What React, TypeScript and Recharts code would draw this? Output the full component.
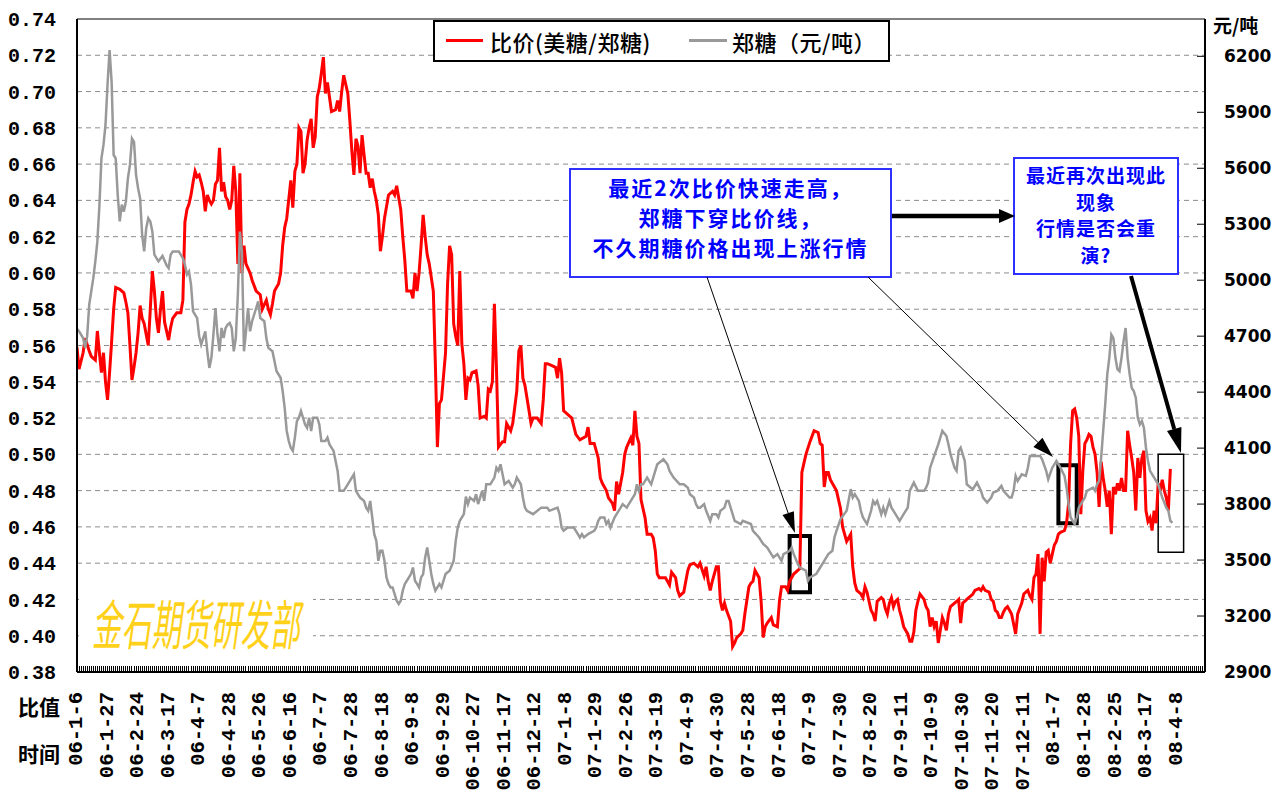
import React from "react";
import {
  CartesianGrid,
  Line,
  LineChart,
  ReferenceArea,
  ReferenceLine,
  XAxis,
  YAxis,
} from "recharts";

// x labels, one every 15 trading days (day index = 15 * position)
const dateLabels = [
  "06-1-6", "06-1-27", "06-2-24", "06-3-17", "06-4-7", "06-4-28", "06-5-26",
  "06-6-16", "06-7-7", "06-7-28", "06-8-18", "06-9-8", "06-9-29", "06-10-27",
  "06-11-17", "06-12-12", "07-1-8", "07-1-29", "07-2-26", "07-3-19", "07-4-9",
  "07-4-30", "07-5-28", "07-6-18", "07-7-9", "07-7-30", "07-8-20", "07-9-11",
  "07-10-9", "07-10-30", "07-11-20", "07-12-11", "08-1-7", "08-1-28", "08-2-25",
  "08-3-17", "08-4-8",
];

const ratioTicks = [
  0.38, 0.4, 0.42, 0.44, 0.46, 0.48, 0.5, 0.52, 0.54, 0.56, 0.58, 0.6, 0.62,
  0.64, 0.66, 0.68, 0.7, 0.72, 0.74,
];
const priceTicks = [
  2900, 3200, 3500, 3800, 4100, 4400, 4700, 5000, 5300, 5600, 5900, 6200,
];

// [trading day, 比价(美糖/郑糖)]
const ratioPoints: [number, number][] = [
  [0,0.559],[1,0.547],[3,0.556],[4,0.564],[6,0.557],[7,0.554],[9,0.552],[10,0.568],[11,0.556],[12,0.545],
  [13,0.556],[14,0.54],[15,0.53],[16,0.545],[17,0.562],[18,0.58],[19,0.592],[21,0.591],[23,0.589],[24,0.584],
  [25,0.578],[26,0.56],[27,0.541],[28,0.548],[29,0.556],[30,0.567],[31,0.582],[32,0.575],[33,0.572],[34,0.566],
  [35,0.56],[36,0.58],[37,0.601],[38,0.59],[39,0.575],[40,0.567],[41,0.58],[42,0.59],[43,0.573],[45,0.563],
  [46,0.57],[47,0.575],[49,0.578],[51,0.578],[52,0.585],[53,0.628],[54,0.635],[55,0.638],[56,0.643],[57,0.65],
  [58,0.656],[59,0.653],[60,0.654],[61,0.65],[62,0.645],[63,0.634],[64,0.643],[65,0.64],[66,0.638],[67,0.64],
  [68,0.649],[69,0.651],[70,0.669],[71,0.645],[72,0.65],[73,0.642],[74,0.64],[75,0.635],[76,0.64],[77,0.659],
  [78,0.645],[79,0.605],[80,0.655],[81,0.6],[82,0.615],[83,0.605],[85,0.6],[86,0.596],[88,0.59],[90,0.588],
  [91,0.58],[93,0.585],[94,0.58],[95,0.577],[96,0.583],[97,0.59],[99,0.594],[100,0.6],[101,0.615],[102,0.625],
  [103,0.63],[105,0.651],[106,0.636],[107,0.656],[108,0.66],[109,0.68],[110,0.678],[111,0.655],[112,0.66],[113,0.673],
  [114,0.68],[115,0.685],[116,0.669],[117,0.675],[118,0.697],[119,0.702],[120,0.71],[121,0.719],[122,0.699],[123,0.705],
  [124,0.697],[125,0.689],[127,0.69],[128,0.695],[129,0.689],[130,0.7],[131,0.709],[133,0.699],[134,0.684],[135,0.667],
  [136,0.654],[137,0.674],[138,0.67],[139,0.655],[140,0.676],[141,0.665],[142,0.655],[143,0.655],[144,0.647],[145,0.652],
  [146,0.645],[147,0.64],[148,0.632],[149,0.612],[150,0.62],[151,0.63],[153,0.643],[155,0.645],[156,0.643],[157,0.648],
  [159,0.635],[160,0.62],[161,0.607],[162,0.59],[164,0.59],[165,0.586],[166,0.6],[167,0.59],[168,0.6],[169,0.615],
  [170,0.632],[171,0.62],[172,0.61],[173,0.605],[175,0.59],[176,0.55],[177,0.504],[178,0.528],[179,0.53],[181,0.556],
  [182,0.594],[183,0.615],[184,0.61],[185,0.572],[186,0.565],[187,0.56],[188,0.601],[189,0.561],[190,0.55],[191,0.53],
  [192,0.542],[193,0.541],[194,0.545],[196,0.546],[197,0.538],[198,0.52],[200,0.521],[201,0.52],[202,0.536],[203,0.535],
  [204,0.54],[205,0.583],[206,0.548],[207,0.504],[209,0.507],[210,0.507],[211,0.517],[213,0.513],[214,0.517],[216,0.535],
  [217,0.557],[218,0.56],[219,0.542],[220,0.538],[221,0.531],[223,0.517],[224,0.52],[226,0.52],[228,0.517],[229,0.53],
  [230,0.55],[231,0.55],[233,0.549],[235,0.548],[236,0.542],[237,0.553],[238,0.545],[239,0.524],[241,0.522],[243,0.52],
  [245,0.511],[247,0.508],[250,0.51],[251,0.515],[252,0.506],[254,0.506],[255,0.502],[256,0.498],[257,0.487],[258,0.484],
  [260,0.48],[261,0.476],[263,0.473],[264,0.469],[265,0.485],[266,0.478],[268,0.49],[269,0.5],[270,0.504],[272,0.509],
  [273,0.505],[274,0.524],[275,0.51],[276,0.506],[277,0.475],[279,0.465],[280,0.456],[282,0.456],[283,0.454],[284,0.447],
  [285,0.434],[286,0.432],[289,0.432],[290,0.43],[291,0.428],[292,0.435],[294,0.432],[295,0.425],[296,0.422],[298,0.424],
  [299,0.43],[300,0.436],[301,0.439],[303,0.44],[305,0.438],[306,0.44],[308,0.433],[309,0.438],[310,0.43],[311,0.425],
  [312,0.43],[314,0.438],[315,0.438],[316,0.419],[317,0.414],[318,0.418],[319,0.414],[321,0.408],[322,0.394],[323,0.396],
  [324,0.399],[326,0.401],[327,0.403],[328,0.412],[330,0.427],[331,0.429],[332,0.43],[333,0.436],[335,0.432],[336,0.419],
  [337,0.399],[338,0.405],[339,0.407],[341,0.41],[342,0.406],[344,0.405],[345,0.419],[346,0.427],[348,0.427],[349,0.425],
  [350,0.43],[352,0.434],[354,0.436],[355,0.437],[356,0.49],[357,0.495],[358,0.5],[360,0.507],[362,0.513],[364,0.512],
  [365,0.506],[366,0.505],[367,0.482],[368,0.49],[369,0.49],[370,0.486],[372,0.482],[373,0.48],[375,0.47],[376,0.46],
  [378,0.452],[380,0.456],[381,0.438],[382,0.429],[383,0.425],[385,0.423],[386,0.421],[387,0.427],[388,0.424],[389,0.419],
  [390,0.414],[391,0.412],[392,0.408],[393,0.419],[395,0.421],[396,0.42],[397,0.415],[398,0.412],[399,0.418],[400,0.421],
  [401,0.416],[402,0.419],[403,0.42],[404,0.414],[405,0.41],[406,0.405],[408,0.401],[409,0.397],[410,0.397],[411,0.402],
  [412,0.414],[413,0.419],[414,0.423],[416,0.42],[417,0.416],[418,0.414],[419,0.405],[420,0.41],[421,0.405],[422,0.408],
  [423,0.396],[424,0.403],[425,0.41],[426,0.407],[427,0.403],[428,0.412],[429,0.416],[431,0.418],[432,0.419],[433,0.42],
  [434,0.407],[435,0.418],[436,0.419],[437,0.42],[439,0.422],[440,0.423],[441,0.425],[443,0.426],[444,0.425],[445,0.427],
  [446,0.425],[448,0.424],[449,0.42],[450,0.419],[451,0.414],[452,0.413],[453,0.41],[454,0.41],[455,0.413],[456,0.415],
  [457,0.416],[458,0.414],[459,0.412],[461,0.401],[462,0.412],[463,0.415],[464,0.418],[465,0.423],[467,0.425],[468,0.422],
  [469,0.42],[470,0.432],[471,0.434],[472,0.445],[473,0.401],[474,0.443],[475,0.43],[476,0.446],[477,0.447],[478,0.44],
  [479,0.445],[480,0.45],[481,0.452],[482,0.456],[483,0.457],[485,0.458],[486,0.462],[487,0.473],[488,0.506],[489,0.524],
  [490,0.525],[491,0.52],[492,0.51],[493,0.467],[494,0.491],[495,0.506],[496,0.508],[497,0.511],[498,0.51],[499,0.504],
  [500,0.5],[501,0.49],[502,0.471],[503,0.496],[504,0.487],[505,0.48],[506,0.471],[507,0.48],[508,0.456],[509,0.482],
  [510,0.478],[511,0.484],[512,0.48],[513,0.487],[514,0.48],[515,0.48],[516,0.513],[517,0.505],[518,0.498],[519,0.49],
  [520,0.469],[521,0.498],[522,0.487],[523,0.498],[524,0.502],[525,0.469],[526,0.463],[527,0.465],[528,0.458],[529,0.469],
  [530,0.462],[531,0.484],[532,0.48],[533,0.486],[534,0.48],[535,0.476],[536,0.469],[537,0.492],
];

// [trading day, 郑糖 元/吨]
const pricePoints: [number, number][] = [
  [0,4740],[1,4726],[3,4690],[4,4637],[5,4700],[6,4869],[8,5011],[9,5101],[10,5208],[11,5400],
  [12,5653],[13,5725],[14,5832],[15,6050],[16,6233],[17,6063],[18,5671],[19,5653],[20,5457],[21,5315],
  [22,5405],[23,5368],[24,5422],[25,5546],[26,5618],[27,5760],[28,5742],[29,5564],[30,5493],[31,5439],
  [32,5243],[33,5154],[34,5279],[35,5332],[36,5315],[37,5261],[38,5137],[40,5101],[42,5130],[44,5080],
  [45,5065],[46,5137],[47,5154],[50,5154],[52,5118],[53,5083],[54,5030],[55,5047],[56,4976],[57,4833],
  [59,4797],[60,4700],[61,4655],[63,4726],[64,4619],[65,4530],[66,4584],[67,4709],[68,4851],[69,4709],
  [70,4619],[71,4744],[72,4690],[73,4744],[74,4762],[75,4771],[76,4744],[77,4619],[78,4690],[79,4923],
  [80,5261],[81,5154],[82,4619],[83,4726],[84,4851],[85,4726],[86,4780],[88,4851],[89,4887],[90,4797],
  [92,4780],[93,4690],[94,4637],[96,4619],[97,4566],[98,4512],[100,4477],[101,4406],[102,4316],[103,4192],
  [104,4138],[105,4102],[106,4085],[107,4156],[108,4245],[109,4263],[110,4299],[112,4227],[113,4209],[114,4263],
  [115,4192],[116,4263],[118,4263],[119,4227],[120,4138],[122,4138],[123,4156],[124,4120],[126,4085],[127,4031],
  [128,3978],[129,3871],[131,3871],[133,3906],[135,3942],[136,3960],[137,3871],[139,3835],[141,3817],[142,3781],
  [143,3764],[144,3817],[145,3728],[146,3639],[147,3603],[148,3496],[149,3550],[150,3550],[151,3496],[152,3407],
  [153,3372],[154,3353],[155,3353],[156,3318],[157,3282],[158,3265],[159,3282],[160,3336],[161,3372],[162,3389],
  [164,3425],[165,3460],[166,3389],[167,3372],[168,3353],[169,3407],[170,3425],[171,3514],[172,3567],[173,3496],
  [174,3425],[175,3372],[176,3336],[178,3372],[179,3353],[181,3425],[183,3443],[185,3496],[186,3603],[187,3674],
  [188,3710],[190,3746],[191,3840],[192,3800],[193,3835],[195,3817],[196,3853],[197,3800],[199,3871],[200,3817],
  [201,3906],[203,3906],[205,3942],[206,3995],[207,3978],[208,4013],[209,3960],[210,3906],[212,3924],[214,3888],
  [215,3906],[216,3942],[218,3906],[219,3835],[220,3781],[221,3764],[224,3746],[228,3781],[231,3781],[232,3764],
  [236,3781],[237,3746],[238,3674],[239,3657],[241,3674],[244,3674],[246,3639],[247,3621],[248,3639],[249,3621],
  [251,3639],[254,3657],[255,3674],[256,3710],[257,3728],[259,3728],[260,3693],[261,3710],[262,3674],[264,3728],
  [265,3746],[267,3781],[268,3800],[270,3781],[271,3800],[272,3817],[274,3853],[275,3906],[276,3871],[277,3906],
  [278,3906],[280,3942],[282,3906],[283,3942],[284,3978],[285,4013],[287,4031],[288,4040],[290,4013],[291,3978],
  [293,3942],[296,3906],[298,3906],[300,3888],[301,3853],[303,3835],[304,3800],[305,3781],[306,3781],[308,3800],
  [309,3764],[311,3710],[312,3746],[314,3746],[315,3728],[316,3764],[318,3781],[319,3817],[320,3817],[322,3746],
  [323,3710],[326,3693],[327,3710],[331,3693],[332,3657],[335,3621],[337,3586],[339,3567],[341,3532],[342,3514],
  [344,3532],[346,3496],[347,3532],[350,3550],[351,3567],[352,3532],[354,3479],[355,3460],[358,3443],[359,3389],
  [360,3407],[363,3425],[365,3460],[367,3496],[369,3532],[371,3550],[372,3621],[373,3657],[375,3720],[378,3764],
  [380,3880],[381,3835],[382,3853],[384,3817],[385,3764],[386,3728],[388,3693],[390,3764],[391,3817],[392,3800],
  [393,3817],[395,3746],[396,3781],[397,3746],[399,3817],[400,3781],[402,3746],[404,3710],[406,3746],[408,3781],
  [409,3871],[411,3915],[413,3871],[414,3871],[416,3871],[417,3888],[418,3915],[419,3995],[421,4058],[423,4120],
  [424,4156],[425,4192],[427,4165],[428,4120],[429,4067],[431,3995],[432,3978],[433,4085],[434,4102],[436,4031],
  [437,3906],[439,3888],[440,3880],[442,3915],[444,3871],[445,3835],[447,3808],[449,3835],[450,3862],[452,3871],
  [454,3897],[455,3871],[458,3835],[459,3835],[460,3871],[461,3951],[462,3924],[464,3960],[466,3951],[467,3995],
  [468,4058],[470,4058],[472,4058],[473,4058],[474,4040],[476,3978],[477,3933],[479,3995],[480,4013],[481,4031],
  [483,3995],[485,3951],[486,3888],[487,3800],[488,3728],[490,3693],[491,3728],[492,3781],[494,3817],[495,3835],
  [496,3871],[499,3888],[500,3871],[501,3906],[502,3924],[503,4049],[504,4192],[505,4334],[506,4495],[507,4584],
  [508,4709],[509,4690],[510,4584],[511,4522],[512,4512],[513,4584],[514,4673],[515,4744],[516,4584],[517,4495],
  [518,4423],[519,4406],[520,4370],[521,4263],[522,4227],[523,4245],[524,4209],[525,4102],[526,4031],[527,3978],
  [529,3942],[531,3906],[532,3871],[533,3835],[535,3781],[536,3764],[537,3710],[538,3700],
];

const ratioData = ratioPoints.map(([i, v]) => ({ i, v }));
const priceData = pricePoints.map(([i, p]) => ({ i, p }));

// one small tick per trading day along the bottom axis
const dayTicks = Array.from({ length: 555 }, (_, k) => k);

// highlight frames, in day / ratio units
const frames = [
  { x1: 350, x2: 360, y1: 0.424, y2: 0.455, w: 4 },
  { x1: 482, x2: 491, y1: 0.462, y2: 0.494, w: 4 },
  { x1: 531, x2: 543.5, y1: 0.446, y2: 0.5, w: 1.5 },
];

// callout arrows, page pixels
const arrows = [
  { from: [892, 216], to: [1015, 216], w: 4.5, len: 16, head: 14 },
  { from: [707, 277], to: [795, 533], w: 1, len: 21, head: 12 },
  { from: [868, 277], to: [1053, 457], w: 1, len: 21, head: 13 },
  { from: [1131, 276], to: [1181, 453], w: 4, len: 25, head: 15 },
];

const cjk = "'Noto Sans CJK SC', 'Noto Sans', sans-serif";
const mono = "'Liberation Mono', 'DejaVu Sans Mono', monospace";

function renderDateTick(props: any) {
  const { x, y, payload } = props;
  const k = payload.value / 15;
  const label = Number.isInteger(k) ? dateLabels[k] : undefined;
  if (!label) return <g />;
  return (
    <text
      x={x}
      y={y}
      dy="0.25em"
      textAnchor="end"
      transform={`rotate(-90, ${x}, ${y})`}
      fontFamily={mono}
      fontWeight={700}
      fontSize={20.5}
      fill="#000"
    >
      {label}
    </text>
  );
}

function Arrow({ from, to, w, len, head }: any) {
  const [x0, y0] = from;
  const [x1, y1] = to;
  const d = Math.hypot(x1 - x0, y1 - y0);
  const ux = (x1 - x0) / d;
  const uy = (y1 - y0) / d;
  const bx = x1 - ux * len;
  const by = y1 - uy * len;
  const px = -uy * (head / 2);
  const py = ux * (head / 2);
  return (
    <g>
      <line x1={x0} y1={y0} x2={bx} y2={by} stroke="#000" strokeWidth={w} />
      <polygon
        points={`${x1},${y1} ${bx + px},${by + py} ${bx - px},${by - py}`}
        fill="#000"
      />
    </g>
  );
}

export default function App() {
  return (
    <div
      style={{
        position: "absolute",
        left: 0,
        top: 0,
        width: 1283,
        height: 796,
        background: "#fff",
        overflow: "hidden",
      }}
    >
      <LineChart
        width={1283}
        height={796}
        margin={{ top: 19, right: 0, bottom: 0, left: 0 }}
      >
        <CartesianGrid
          yAxisId="left"
          vertical={false}
          stroke="#8c8c8c"
          strokeDasharray="5 4"
        />
        <XAxis
          type="number"
          dataKey="i"
          domain={[0, 554]}
          allowDataOverflow
          ticks={dayTicks}
          interval={0}
          height={124}
          tickSize={-6}
          tickMargin={26}
          axisLine={{ stroke: "#000", strokeWidth: 2 }}
          tickLine={{ stroke: "#000", shapeRendering: "crispEdges" }}
          tick={renderDateTick}
        />
        <YAxis
          yAxisId="left"
          domain={[0.38, 0.74]}
          ticks={ratioTicks}
          interval={0}
          width={77}
          tickSize={0}
          tickMargin={21}
          tickLine={false}
          axisLine={{ stroke: "#000", strokeWidth: 2 }}
          tickFormatter={(v: number) => v.toFixed(2)}
          tick={{ fontFamily: mono, fontWeight: 700, fontSize: 20, fill: "#000" }}
        />
        <YAxis
          yAxisId="right"
          orientation="right"
          domain={[2900, 6400]}
          ticks={priceTicks}
          interval={0}
          width={78}
          tickSize={-8}
          tickMargin={27}
          tickLine={{ stroke: "#000" }}
          axisLine={{ stroke: "#000", strokeWidth: 2 }}
          tick={{ fontFamily: "'DejaVu Sans', sans-serif", fontWeight: 700, fontSize: 17, fill: "#000" }}
        />
        <ReferenceLine yAxisId="left" y={0.74} stroke="#808080" strokeWidth={2} />
        <Line
          data={ratioData}
          yAxisId="left"
          dataKey="v"
          type="linear"
          stroke="#ff0000"
          strokeWidth={3}
          dot={false}
          activeDot={false}
          isAnimationActive={false}
        />
        <Line
          data={priceData}
          yAxisId="right"
          dataKey="p"
          type="linear"
          stroke="#999999"
          strokeWidth={2.5}
          dot={false}
          activeDot={false}
          isAnimationActive={false}
        />
        {frames.map((f, k) => (
          <ReferenceArea
            key={k}
            yAxisId="left"
            x1={f.x1}
            x2={f.x2}
            y1={f.y1}
            y2={f.y2}
            fill="none"
            fillOpacity={0}
            stroke="#000"
            strokeWidth={f.w}
            ifOverflow="visible"
          />
        ))}
      </LineChart>

      {/* watermark on its white patch */}
      <div
        style={{
          position: "absolute",
          left: 79,
          top: 583,
          width: 234,
          height: 68,
          background: "#fff",
        }}
      >
        <div
          style={{
            position: "absolute",
            left: 13,
            top: 12,
            fontFamily: cjk,
            fontSize: 54,
            lineHeight: "54px",
            fontStyle: "italic",
            color: "#ffd11a",
            whiteSpace: "nowrap",
            transform: "scaleX(0.55)",
            transformOrigin: "left top",
          }}
        >
          金石期货研发部
        </div>
      </div>

      {/* legend */}
      <div
        style={{
          position: "absolute",
          left: 433,
          top: 20,
          width: 453,
          height: 38,
          border: "2px solid #000",
          background: "#fff",
          fontFamily: cjk,
          fontSize: 22,
          fontWeight: 500,
          letterSpacing: 0.5,
          lineHeight: "38px",
          color: "#000",
          whiteSpace: "nowrap",
        }}
      >
        <div style={{ position: "absolute", left: 11, top: 17, width: 37, height: 3, background: "#ff0000" }} />
        <div style={{ position: "absolute", left: 55, top: 0 }}>比价(美糖/郑糖)</div>
        <div style={{ position: "absolute", left: 254, top: 17, width: 38, height: 3, background: "#999999" }} />
        <div style={{ position: "absolute", left: 297, top: 0 }}>郑糖（元/吨）</div>
      </div>

      {/* callout boxes */}
      <div
        style={{
          position: "absolute",
          left: 569,
          top: 168,
          width: 319,
          height: 104,
          border: "2px solid #3030ff",
          background: "#fff",
          fontFamily: cjk,
          fontSize: 21,
          fontWeight: 700,
          letterSpacing: 2,
          lineHeight: "30px",
          color: "#0000ff",
          textAlign: "center",
          paddingTop: 2,
          boxSizing: "content-box",
        }}
      >
        <div>最近2次比价快速走高，</div>
        <div>郑糖下穿比价线，</div>
        <div>不久期糖价格出现上涨行情</div>
      </div>
      <div
        style={{
          position: "absolute",
          left: 1013,
          top: 157,
          width: 162,
          height: 111,
          border: "2px solid #3030ff",
          background: "#fff",
          fontFamily: cjk,
          fontSize: 19,
          fontWeight: 700,
          letterSpacing: 1,
          lineHeight: "26.5px",
          color: "#0000ff",
          textAlign: "center",
          paddingTop: 3,
        }}
      >
        <div>最近再次出现此</div>
        <div>现象</div>
        <div>行情是否会重</div>
        <div>演?</div>
      </div>

      <svg
        width={1283}
        height={796}
        style={{ position: "absolute", left: 0, top: 0, pointerEvents: "none" }}
      >
        {arrows.map((a, k) => (
          <Arrow key={k} {...a} />
        ))}
      </svg>

      {/* axis captions */}
      <div style={{ position: "absolute", left: 1213, top: 13, fontFamily: cjk, fontSize: 19, fontWeight: 700, lineHeight: "24px" }}>
        元/吨
      </div>
      <div style={{ position: "absolute", left: 18, top: 694, fontFamily: cjk, fontSize: 21, fontWeight: 700, lineHeight: "24px" }}>
        比值
      </div>
      <div style={{ position: "absolute", left: 18, top: 741, fontFamily: cjk, fontSize: 21, fontWeight: 700, lineHeight: "24px" }}>
        时间
      </div>
    </div>
  );
}
